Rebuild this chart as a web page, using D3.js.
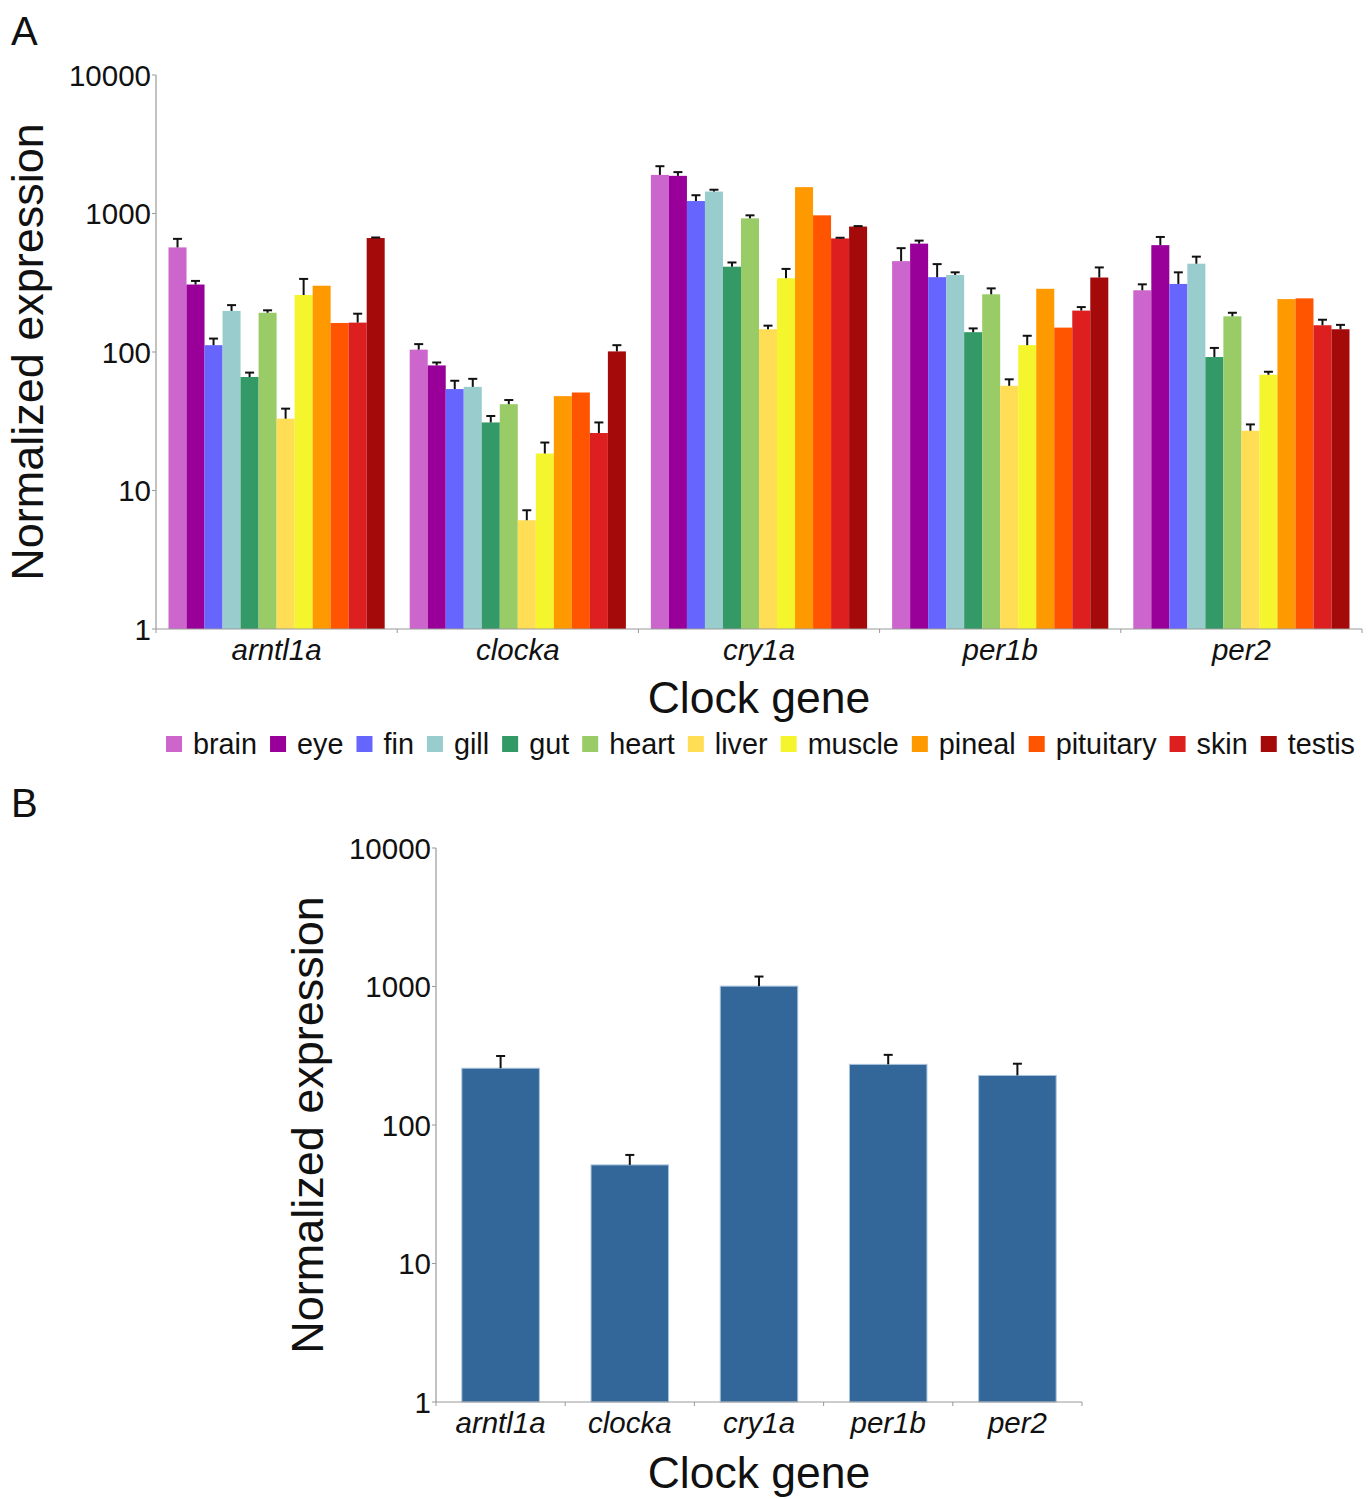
<html>
<head>
<script src="https://cdnjs.cloudflare.com/ajax/libs/d3/7.8.5/d3.min.js"></script>
<style>
  body { margin: 0; background: #fff; }
  text { font-family: "Liberation Sans", Arial, sans-serif; fill: #111; }
</style>
</head>
<body>
<div id="chart"></div>
<script>
// genes and tissues
const genes = ["arntl1a", "clocka", "cry1a", "per1b", "per2"];
const tissues = ["brain", "eye", "fin", "gill", "gut", "heart", "liver", "muscle", "pineal", "pituitary", "skin", "testis"];
const tissueColors = ["#cc66cc", "#990099", "#6666ff", "#99cccc", "#339966", "#99cc66", "#ffdd55", "#f5f52e", "#ff9900", "#ff5500", "#dd1f1f", "#a50a0a"];

// panel A means (one array per gene, in tissue order) and error (sem)
const arntl1aMean = [569, 307, 112, 198, 66, 192, 33, 258, 301, 162, 163, 665];
const arntl1aErr  = [87, 19, 13, 20, 5, 8, 6, 79, 0, 0, 26, 6];
const clockaMean  = [104, 80, 54, 56, 31, 42, 6.1, 18.5, 48, 51, 26, 101];
const clockaErr   = [10, 4, 8, 8, 3.5, 3, 1.1, 3.7, 0, 0, 5, 11];
const cry1aMean   = [1900, 1870, 1230, 1440, 413, 923, 146, 341, 1550, 970, 661, 805];
const cry1aErr    = [295, 120, 125, 45, 30, 47, 9, 57, 0, 0, 7, 6];
const per1bMean   = [453, 606, 347, 360, 139, 261, 57, 112, 286, 150, 199, 345];
const per1bErr    = [109, 31, 84, 16, 9, 27, 6.5, 19, 0, 0, 12, 63];
const per2Mean    = [279, 591, 310, 434, 92, 181, 27, 68.5, 241, 244, 156, 146];
const per2Err     = [29, 86, 66, 54, 15, 11, 3, 3.5, 0, 0, 15, 11];

// panel B (all tissues pooled)
const pooledMean = [257, 51.5, 1006, 274, 228];
const pooledErr  = [58, 9.3, 174, 47, 49];

const yTicks = [1, 10, 100, 1000, 10000];

const meansA = [arntl1aMean, clockaMean, cry1aMean, per1bMean, per2Mean];
const errsA = [arntl1aErr, clockaErr, cry1aErr, per1bErr, per2Err];

const W = 1372, H = 1499;
const svg = d3.select("#chart").append("svg").attr("width", W).attr("height", H);

const axisColor = "#999";

function drawAxes(g, x, y, x0, x1, yBase) {
  // y axis
  g.append("line").attr("x1", x0).attr("x2", x0)
    .attr("y1", y(10000)).attr("y2", y(1))
    .attr("stroke", axisColor).attr("stroke-width", 1.2);
  g.selectAll(".ytick").data(yTicks).enter().append("line")
    .attr("x1", x0 - 4).attr("x2", x0)
    .attr("y1", d => y(d)).attr("y2", d => y(d))
    .attr("stroke", axisColor);
  g.selectAll(".ylab").data(yTicks).enter().append("text")
    .attr("x", x0 - 5).attr("y", d => y(d))
    .attr("dy", "0.36em")
    .attr("text-anchor", "end")
    .style("font-size", "29.5px")
    .text(d => d);
  // x axis
  g.append("line").attr("x1", x0).attr("x2", x1)
    .attr("y1", yBase).attr("y2", yBase)
    .attr("stroke", axisColor).attr("stroke-width", 1.2);
  const bounds = x.domain().map(d => x(d)).concat([x1]);
  g.selectAll(".xtick").data(bounds).enter().append("line")
    .attr("x1", d => d).attr("x2", d => d)
    .attr("y1", yBase).attr("y2", yBase + 4)
    .attr("stroke", axisColor);
  g.selectAll(".xlab").data(genes).enter().append("text")
    .attr("x", d => x(d) + x.bandwidth() / 2)
    .attr("y", yBase + 31)
    .attr("text-anchor", "middle")
    .style("font-size", "29.5px")
    .style("font-style", "italic")
    .text(d => d);
}

function errorBar(g, cx, yTop, yMean) {
  g.append("line").attr("x1", cx).attr("x2", cx)
    .attr("y1", yMean).attr("y2", yTop)
    .attr("stroke", "#111").attr("stroke-width", 2);
  g.append("line").attr("x1", cx - 4.5).attr("x2", cx + 4.5)
    .attr("y1", yTop).attr("y2", yTop)
    .attr("stroke", "#111").attr("stroke-width", 2);
}

// ---------- Panel A ----------
const xA = d3.scaleBand().domain(genes).range([156, 1362]).padding(0);
const xInner = d3.scaleBand().domain(tissues).range([12.5, xA.bandwidth() - 12.5]).padding(0);
const yA = d3.scaleLog().domain([1, 10000]).range([629, 75]);

const gA = svg.append("g");
genes.forEach((gene, gi) => {
  const grp = gA.append("g").attr("transform", `translate(${xA(gene)},0)`);
  tissues.forEach((t, ti) => {
    const v = meansA[gi][ti];
    grp.append("rect")
      .attr("x", xInner(t))
      .attr("y", yA(v))
      .attr("width", xInner.bandwidth())
      .attr("height", yA(1) - yA(v))
      .attr("fill", tissueColors[ti]);
  });
  tissues.forEach((t, ti) => {
    const v = meansA[gi][ti], e = errsA[gi][ti];
    if (e > 0) errorBar(grp, xInner(t) + xInner.bandwidth() / 2, yA(v + e), yA(v));
  });
});
drawAxes(gA, xA, yA, 156, 1362, 629);

gA.append("text").attr("x", 759).attr("y", 713)
  .attr("text-anchor", "middle").style("font-size", "44.5px").text("Clock gene");
gA.append("text").attr("transform", "translate(43,352) rotate(-90)")
  .attr("text-anchor", "middle").style("font-size", "45px").text("Normalized expression");
svg.append("text").attr("x", 11).attr("y", 45).style("font-size", "40px").text("A");

// legend
const leg = svg.append("g").attr("transform", "translate(166,744)");
let lx = 0;
tissues.forEach((t, i) => {
  leg.append("rect").attr("x", lx).attr("y", -8).attr("width", 16).attr("height", 16)
    .attr("fill", tissueColors[i]);
  const txt = leg.append("text").attr("x", lx + 27).attr("y", 0).attr("dy", "0.36em")
    .style("font-size", "28.8px").text(t);
  lx += 27 + txt.node().getComputedTextLength() + 13;
});

// ---------- Panel B ----------
const xB = d3.scaleBand().domain(genes).range([436, 1082]).paddingInner(0.4).paddingOuter(0.2);
const xBAxis = d3.scaleBand().domain(genes).range([436, 1082]).padding(0);
const yB = d3.scaleLog().domain([1, 10000]).range([1402, 848]);

const gB = svg.append("g");
gB.selectAll("rect").data(genes).enter().append("rect")
  .attr("x", d => xB(d))
  .attr("y", (d, i) => yB(pooledMean[i]))
  .attr("width", xB.bandwidth())
  .attr("height", (d, i) => yB(1) - yB(pooledMean[i]))
  .attr("fill", "#336699")
  .attr("stroke", "#a9c4dc").attr("stroke-width", 1);
genes.forEach((g, i) => {
  errorBar(gB, xB(g) + xB.bandwidth() / 2, yB(pooledMean[i] + pooledErr[i]), yB(pooledMean[i]));
});
drawAxes(gB, xBAxis, yB, 436, 1082, 1402);

gB.append("text").attr("x", 759).attr("y", 1488)
  .attr("text-anchor", "middle").style("font-size", "44.5px").text("Clock gene");
gB.append("text").attr("transform", "translate(323,1125) rotate(-90)")
  .attr("text-anchor", "middle").style("font-size", "45px").text("Normalized expression");
svg.append("text").attr("x", 11).attr("y", 817).style("font-size", "40px").text("B");
</script>
</body>
</html>
